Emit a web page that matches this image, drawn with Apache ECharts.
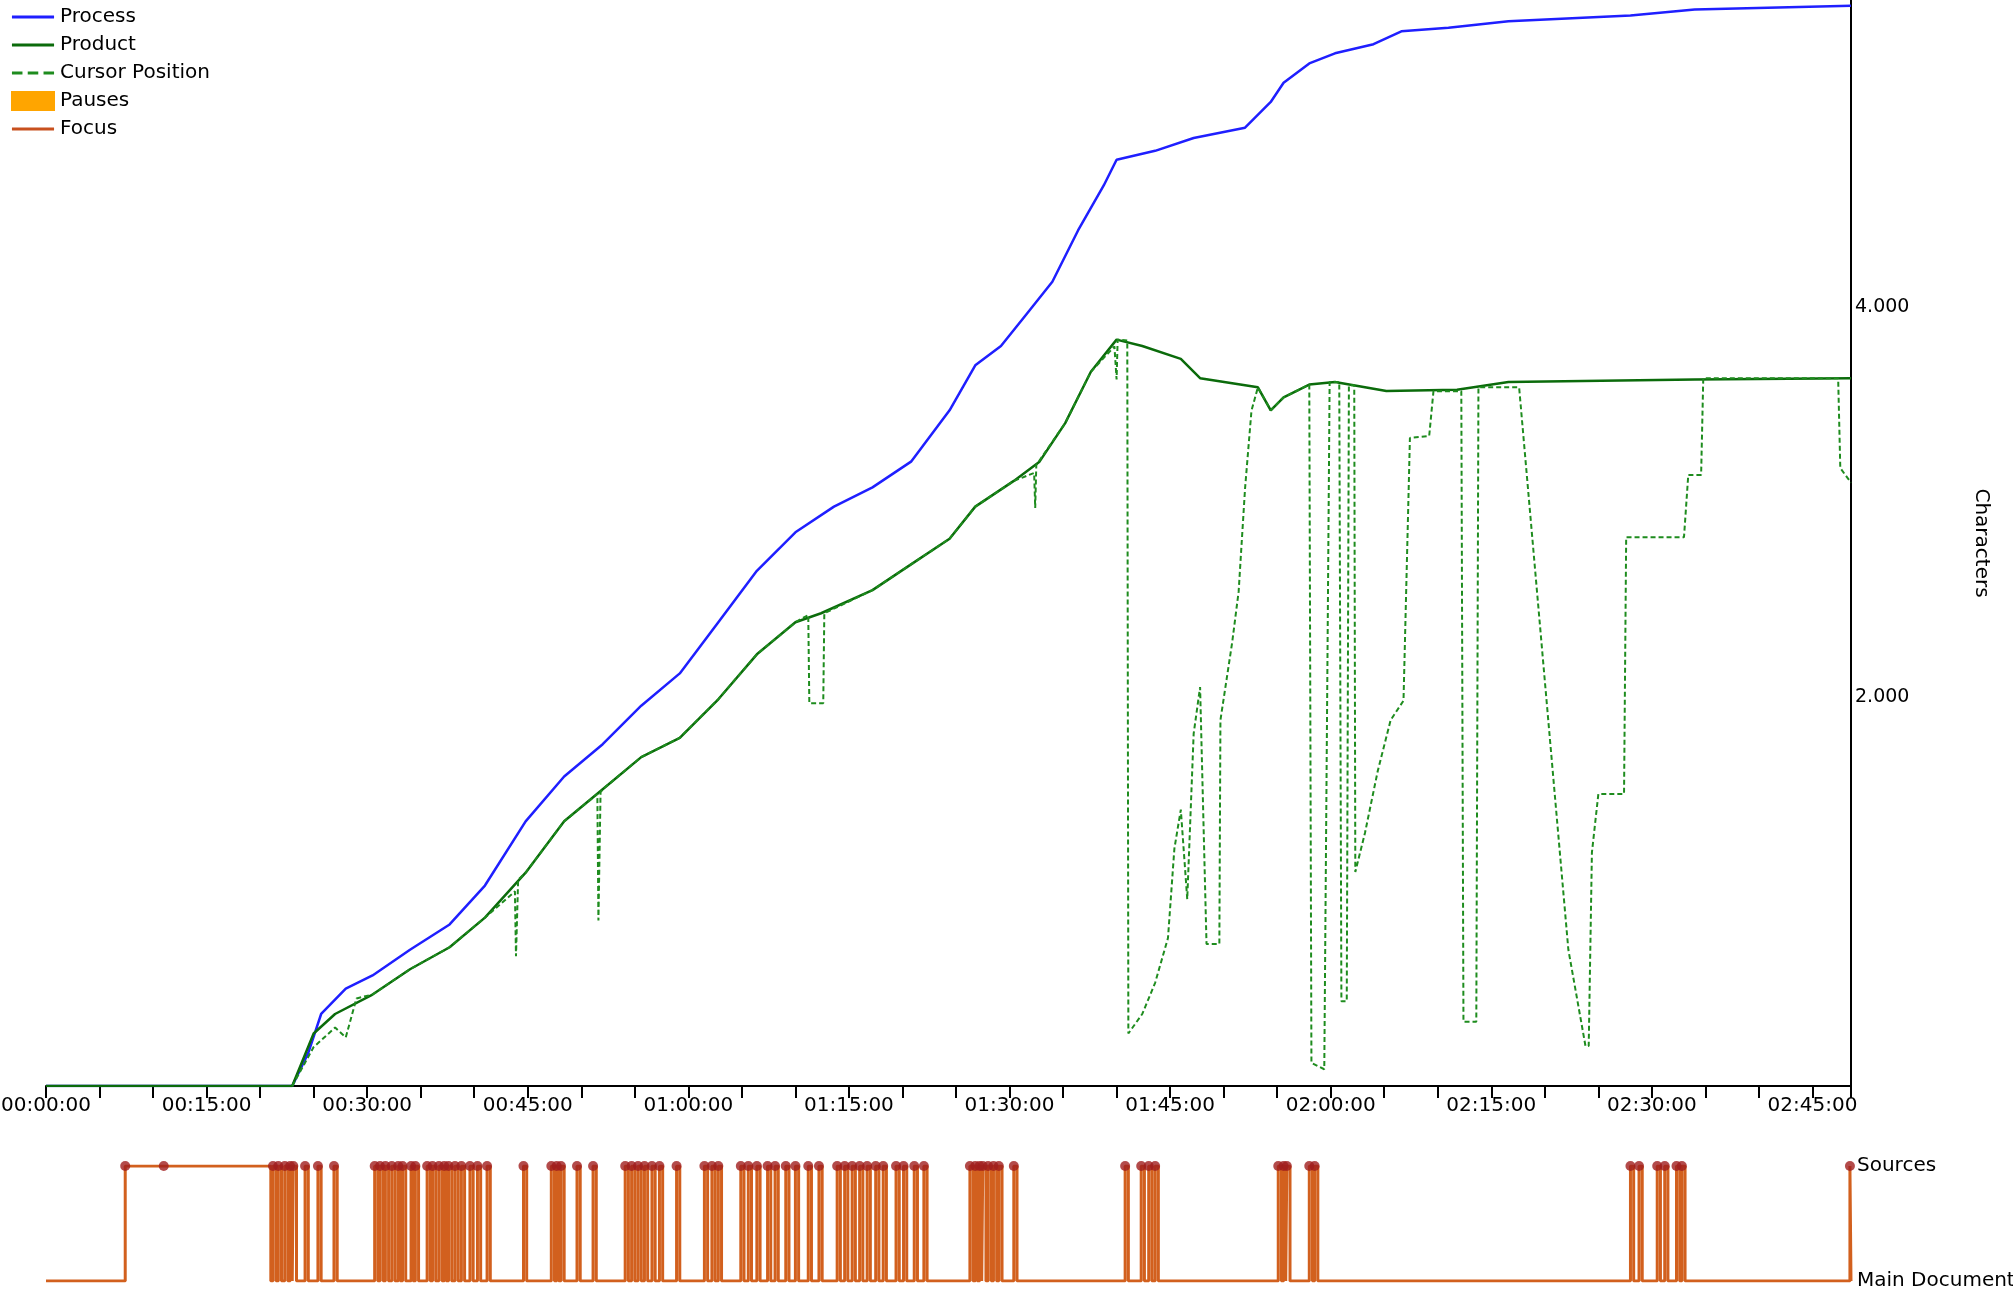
<!DOCTYPE html>
<html>
<head>
<meta charset="utf-8">
<script src="https://cdn.jsdelivr.net/npm/echarts@6/dist/echarts.min.js"></script>
<style>html,body{margin:0;padding:0;background:#fff}#main{width:2013px;height:1289px}</style>
</head>
<body>
<div id="main"></div>
<script>
// time in minutes, values in characters
var processData = [[0,0],[23,0],[24.5,170],[25.7,370],[28,500],[30.5,568],[34,700],[37.7,830],[41,1030],[44.8,1360],[48.4,1590],[52,1756],[55.6,1954],[59.2,2120],[62.8,2383],[66.4,2647],[70,2845],[73.6,2977],[77.2,3076],[80.8,3208],[84.4,3472],[86.8,3703],[89.2,3802],[91.6,3967],[94,4132],[96.4,4396],[98.8,4627],[100,4759],[103.6,4805],[107.2,4871],[112,4924],[114.4,5056],[115.6,5155],[118,5254],[120.4,5306],[124,5353],[126.6,5419],[131,5438],[136.6,5471],[148,5500],[154,5531],[168.6,5550]];
var productData = [[0,0],[23,0],[25,270],[27,370],[30.5,470],[34,600],[37.7,713],[41,865],[44.8,1096],[48.4,1360],[52,1525],[55.6,1690],[59.2,1789],[62.8,1987],[66.4,2218],[70,2383],[72.4,2429],[77.2,2548],[80.8,2680],[84.4,2812],[86.8,2977],[90.4,3109],[92.8,3208],[95.2,3406],[97.6,3670],[100,3835],[102.4,3802],[106,3736],[107.8,3637],[113.2,3590],[114.4,3472],[115.6,3538],[118,3604],[120.4,3617],[125.2,3571],[131.8,3577],[136.6,3617],[154,3630],[168.6,3637]];
var cursorData = [[23,0],[25,200],[27,300],[28,250],[29,450],[30.5,470],[34,600],[37.7,713],[41,865],[43.8,1000],[43.9,667],[44.1,1060],[44.8,1096],[48.4,1360],[51.5,1500],[51.6,851],[51.8,1510],[52,1525],[55.6,1690],[59.2,1789],[62.8,1987],[66.4,2218],[70,2383],[71.2,2420],[71.3,1967],[72.6,1967],[72.7,2429],[77.2,2548],[80.8,2680],[84.4,2812],[86.8,2977],[90.4,3109],[92.3,3150],[92.4,2970],[92.5,3190],[95.2,3406],[97.6,3670],[99.8,3800],[100,3630],[100.1,3835],[101,3830],[101.1,270],[102.4,370],[103.6,530],[104.8,760],[105.4,1220],[106,1420],[106.6,960],[107.2,1810],[107.8,2050],[108.4,730],[109.6,730],[109.7,1880],[110.8,2280],[111.4,2540],[112,3070],[112.6,3470],[113.2,3590],[114.4,3472],[115.6,3538],[118,3604],[118.2,119],[119.4,86],[119.9,3617],[120.8,3617],[121,435],[121.5,435],[121.7,3600],[122.2,3600],[122.3,1100],[123.2,1300],[124.4,1620],[125.6,1880],[126.8,1980],[127.4,3330],[129.2,3340],[129.6,3570],[132.2,3570],[132.4,330],[133.6,330],[133.8,3590],[137.6,3590],[142.2,700],[143.8,205],[144.1,205],[144.4,1200],[145,1500],[147.4,1500],[147.6,2820],[153,2820],[153.4,3140],[154.6,3140],[154.8,3637],[167.4,3637],[167.6,3175],[168.6,3100]];
// focus on Sources: [enter, leave] in minutes
var focusVisits = [[7.4,21.0],[21.2,21.5],[21.7,22.0],[22.3,22.6],[22.8,23.0],[23.1,23.4],[24.2,24.5],[25.4,25.7],[26.9,27.2],[30.7,31.0],[31.2,31.5],[31.7,32.0],[32.3,32.6],[32.9,33.1],[33.3,33.6],[34.1,34.3],[34.5,34.8],[35.6,35.9],[36.1,36.4],[36.7,37.0],[37.2,37.4],[37.6,37.9],[38.2,38.5],[38.8,39.1],[39.6,39.9],[40.3,40.6],[41.2,41.5],[44.6,44.9],[47.2,47.5],[47.7,47.9],[48.1,48.4],[49.6,49.9],[51.1,51.4],[54.1,54.4],[54.7,55.0],[55.3,55.6],[55.9,56.2],[56.6,56.9],[57.3,57.6],[58.9,59.2],[61.5,61.8],[62.2,62.5],[62.8,63.1],[64.9,65.2],[65.6,65.9],[66.4,66.7],[67.4,67.7],[68.1,68.4],[69.1,69.4],[70.0,70.3],[71.2,71.5],[72.2,72.5],[73.9,74.2],[74.6,74.9],[75.3,75.6],[76.0,76.3],[76.7,77.0],[77.5,77.8],[78.2,78.5],[79.4,79.7],[80.1,80.4],[81.1,81.4],[82.0,82.3],[86.3,86.6],[86.8,87.0],[87.2,87.4],[87.5,87.8],[88.0,88.3],[88.5,88.8],[89.0,89.3],[90.4,90.7],[100.8,101.1],[102.3,102.6],[103.0,103.3],[103.6,103.9],[115.1,115.4],[115.6,115.8],[115.9,116.2],[118.0,118.3],[118.5,118.8],[148.0,148.3],[148.8,149.1],[150.5,150.8],[151.2,151.5],[152.3,152.6],[152.8,153.1],[168.5,168.6]];
var extraFocusDots = [[11,1]];
var yTickLabels = {2000:'2.000', 4000:'4.000'};
var focusLabels = ['Main Document', 'Sources'];

var focusLine = [[0,0]];
var focusDots = extraFocusDots.slice();
focusVisits.forEach(function (v) {
    focusLine.push([v[0],0],[v[0],1],[v[1],1],[v[1],0]);
    focusDots.push([v[0],1]);
});

function fmtTime(m) {
    var h = Math.floor(m / 60), mm = Math.round(m % 60);
    return (h < 10 ? '0' : '') + h + ':' + (mm < 10 ? '0' : '') + mm + ':00';
}

var font = 'DejaVu Sans';
var chart = echarts.init(document.getElementById('main'));
var lineIcon = 'path://M0,0L0,0ZM0,8H40V11H0ZM0,19L0,19Z';
var dashIcon = 'path://M0,0L0,0ZM0,8H10V11H0ZM15,8H25V11H15ZM30,8H40V11H30ZM0,19L0,19Z';
chart.setOption({
    animation: false,
    legend: {
        orient: 'vertical', left: 6, top: 2, itemGap: 8, itemWidth: 44, itemHeight: 20,
        textStyle: {fontFamily: font, fontSize: 20, color: '#000'},
        data: [
            {name: 'Process', icon: lineIcon},
            {name: 'Product', icon: lineIcon},
            {name: 'Cursor Position', icon: dashIcon},
            {name: 'Pauses', icon: 'rect'},
            {name: 'Focus', icon: lineIcon}
        ]
    },
    grid: [
        {left: 46, right: 162, top: 0, bottom: 203, outerBoundsMode: 'none', containLabel: false},
        {left: 46, right: 162, top: 1166, bottom: 8, outerBoundsMode: 'none', containLabel: false}
    ],
    xAxis: [
        {
            type: 'value', gridIndex: 0, min: 0, max: 168.6, interval: 15,
            axisLine: {lineStyle: {color: '#000', width: 2}},
            axisTick: {show: true, length: 12, lineStyle: {color: '#000', width: 2}},
            minorTick: {show: true, splitNumber: 3, length: 12, lineStyle: {color: '#000', width: 2}},
            splitLine: {show: false},
            axisLabel: {fontFamily: font, fontSize: 20, color: '#000', margin: 10, formatter: fmtTime}
        },
        {type: 'value', gridIndex: 1, min: 0, max: 168.6, show: false}
    ],
    yAxis: [
        {
            type: 'value', gridIndex: 0, position: 'right', min: 0, max: 5580, interval: 2000,
            axisLine: {show: true, onZero: false, lineStyle: {color: '#000', width: 2}},
            axisTick: {show: false}, splitLine: {show: false},
            axisLabel: {fontFamily: font, fontSize: 19, color: '#000', margin: 4,
                formatter: function (v) { return yTickLabels[v] || ''; }},
            name: 'Characters', nameLocation: 'middle', nameRotate: -90, nameGap: 120,
            nameTextStyle: {fontFamily: font, fontSize: 20, color: '#000'}
        },
        {
            type: 'value', gridIndex: 1, position: 'right', min: 0, max: 1, interval: 1,
            axisLine: {show: false}, axisTick: {show: false}, splitLine: {show: false},
            axisLabel: {fontFamily: font, fontSize: 20, color: '#000', margin: 6,
                formatter: function (v) { return focusLabels[v]; }}
        }
    ],
    series: [
        {name: 'Process', type: 'line', data: processData, showSymbol: false, color: '#1f1fff',
            lineStyle: {width: 2.5, color: '#1f1fff'}},
        {name: 'Product', type: 'line', data: productData, showSymbol: false, color: '#0b6b0b',
            lineStyle: {width: 2.5, color: '#0b6b0b'}},
        {name: 'Cursor Position', type: 'line', data: cursorData, showSymbol: false, color: '#1e8c1e',
            lineStyle: {width: 2, color: '#1e8c1e', type: [5, 3]}},
        {name: 'Pauses', type: 'bar', data: [], color: '#ffa500', itemStyle: {borderColor: '#e08a00'}},
        {name: 'Focus', type: 'line', xAxisIndex: 1, yAxisIndex: 1, data: focusLine, showSymbol: false,
            color: '#c8501e', lineStyle: {width: 3, color: '#d2601e'}},
        {name: 'FocusDots', type: 'scatter', xAxisIndex: 1, yAxisIndex: 1, data: focusDots,
            symbolSize: 10, itemStyle: {color: '#a01e1e'}, z: 5}
    ]
});
</script>
</body>
</html>
